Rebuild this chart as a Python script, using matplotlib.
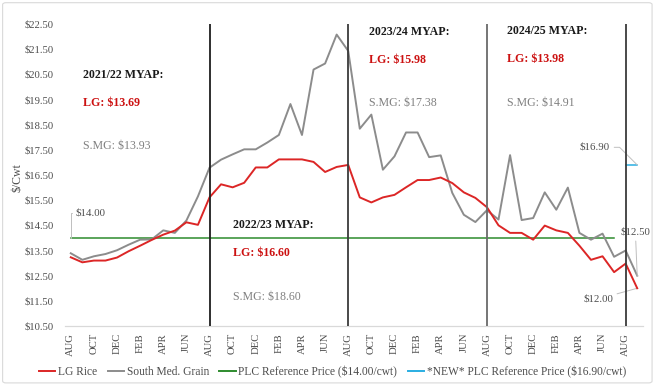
import matplotlib
matplotlib.use("Agg")
import matplotlib.pyplot as plt
from matplotlib.lines import Line2D
from matplotlib.patches import FancyBboxPatch

plt.rcParams['font.family'] = ['Liberation Serif', 'DejaVu Serif']

# ---------------- DATA ----------------
categories = ['AUG', 'SEP', 'OCT', 'NOV', 'DEC', 'JAN', 'FEB', 'MAR', 'APR', 'MAY', 'JUN', 'JUL'] * 4 + ['AUG', 'SEP']
lg_rice = [13.23, 13.03, 13.10, 13.10, 13.22, 13.47, 13.69, 13.92, 14.13, 14.29, 14.62, 14.52, 15.61,
           16.13, 16.01, 16.19, 16.80, 16.80, 17.12, 17.12, 17.12, 17.02, 16.62, 16.82, 16.90,
           15.61, 15.41, 15.61, 15.71, 16.01, 16.30, 16.30, 16.40, 16.18, 15.81, 15.59, 15.22,
           14.50, 14.20, 14.20, 13.93, 14.49, 14.30, 14.20, 13.69, 13.13, 13.27, 12.64, 12.98, 12.00]
south_med = [13.39, 13.13, 13.27, 13.36, 13.51, 13.73, 13.93, 13.94, 14.30, 14.20, 14.69, 15.65, 16.79,
             17.11, 17.32, 17.52, 17.52, 17.79, 18.09, 19.32, 18.09, 20.69, 20.93, 22.08, 21.43,
             18.34, 18.90, 16.71, 17.24, 18.19, 18.19, 17.21, 17.28, 15.79, 14.92, 14.63, 15.10,
             14.73, 17.29, 14.71, 14.79, 15.81, 15.12, 16.00, 14.20, 13.93, 14.17, 13.25, 13.50, 12.50]
plc_ref = 14.00
plc_ref_end = 48          # old reference price drawn over categories [0, 48)
new_plc_ref = 16.90
new_plc_start = 48        # new reference price drawn over categories [48, 50)
year_breaks = [12, 24, 36, 48]
myap_years = ['2021/22', '2022/23', '2023/24', '2024/25']
myap_lg = [13.69, 16.60, 15.98, 13.98]
myap_smg = [13.93, 18.60, 17.38, 14.91]
yticks = [10.5, 11.5, 12.5, 13.5, 14.5, 15.5, 16.5, 17.5, 18.5, 19.5, 20.5, 21.5, 22.5]

# ---------------- STYLE ----------------
RED = '#dc2626'
RED_TXT = '#cc1111'
GREY = '#8c8c8c'
GREY_TXT = '#808080'
GREEN = '#2e8b2e'
BLUE = '#2aaee2'
TICK = '#4d4d4d'
LEAD = '#bfbfbf'

fig = plt.figure(figsize=(6.56, 3.86), dpi=100)
fig.patches.append(FancyBboxPatch((0.004, 0.008), 0.99, 0.985, boxstyle='round,pad=0,rounding_size=0.005',
                                  transform=fig.transFigure, fill=False, edgecolor='#d9d9d9', lw=0.8))
ax = fig.add_axes([65 / 656, 1 - 326 / 386, 578 / 656, 302 / 386])

x = list(range(len(categories)))
ax.plot(x, lg_rice, color=RED, lw=1.4, zorder=4)
ax.plot(x, south_med, color=GREY, lw=1.4, zorder=3)
ax.plot(x[:plc_ref_end], [plc_ref] * plc_ref_end, color=GREEN, lw=1.1, zorder=2)
ax.plot(x[new_plc_start:], [new_plc_ref] * (len(x) - new_plc_start), color=BLUE, lw=1.1, zorder=2)

vcolors = ['#1f1f1f', '#3a3a3a', '#6a6a6a', '#3a3a3a']
for b, c in zip(year_breaks, vcolors):
    ax.axvline(b, color=c, lw=1.3, zorder=5)

ax.set_xlim(-0.5, len(categories) - 0.5)
ax.set_ylim(10.5, 22.5)
ax.set_yticks(yticks)
ax.set_yticklabels([f'${v:.2f}' for v in yticks])
ax.set_xticks(x[::2])
ax.set_xticklabels(categories[::2], rotation=90)
ax.tick_params(axis='both', length=0, colors=TICK, labelsize=7.7)
ax.tick_params(axis='y', pad=8)
ax.tick_params(axis='x', pad=5)
for s in ['top', 'right', 'left']:
    ax.spines[s].set_visible(False)
ax.spines['bottom'].set_color('#d9d9d9')
ax.spines['bottom'].set_linewidth(0.9)
ax.set_ylabel('$/Cwt', color=TICK, fontsize=8.5, labelpad=4)
ax.yaxis.set_label_coords(-0.071, 0.49)

# MYAP annotation blocks (x in category units, y in $/cwt)
block_pos = [(1.03, 20.47, 19.37, 17.65),
             (14.06, 14.51, 13.41, 11.66),
             (25.82, 22.17, 21.07, 19.37),
             (37.76, 22.22, 21.11, 19.37)]
for (bx, y1, y2, y3), yr, lg, sm in zip(block_pos, myap_years, myap_lg, myap_smg):
    ax.text(bx, y1, f'{yr} MYAP:', fontsize=8.6, fontweight='bold', color='#1a1a1a', ha='left', va='center')
    ax.text(bx, y2, f'LG: ${lg:.2f}', fontsize=8.6, fontweight='bold', color=RED_TXT, ha='left', va='center')
    ax.text(bx, y3, f'S.MG: ${sm:.2f}', fontsize=8.6, color=GREY_TXT, ha='left', va='center')

# data labels with leader lines
lbl_kw = dict(fontsize=7.8, color=TICK)
ax.annotate(f'${plc_ref:.2f}', xy=(0, plc_ref), xytext=(0.45, 14.99), ha='left', va='center',
            arrowprops=dict(arrowstyle='-', color=LEAD, lw=0.7, shrinkA=1, shrinkB=0,
                            connectionstyle='angle,angleA=180,angleB=90,rad=0'), **lbl_kw)
ax.annotate(f'${new_plc_ref:.2f}', xy=(len(x) - 1, new_plc_ref), xytext=(46.65, 17.6), ha='right', va='center',
            arrowprops=dict(arrowstyle='-', color=LEAD, lw=0.7, shrinkA=1, shrinkB=0,
                            connectionstyle='angle,angleA=0,angleB=135,rad=0'), **lbl_kw)
ax.annotate(f'${south_med[-1]:.2f}', xy=(len(x) - 1, south_med[-1]), xytext=(47.55, 14.22), ha='left', va='center',
            arrowprops=dict(arrowstyle='-', color=LEAD, lw=0.7, shrinkA=1, shrinkB=0), annotation_clip=False, **lbl_kw)
ax.annotate(f'${lg_rice[-1]:.2f}', xy=(len(x) - 1, lg_rice[-1]), xytext=(46.9, 11.57), ha='right', va='center',
            arrowprops=dict(arrowstyle='-', color=LEAD, lw=0.7, shrinkA=1, shrinkB=0), **lbl_kw)

handles = [Line2D([], [], color=RED, lw=1.4), Line2D([], [], color=GREY, lw=1.4),
           Line2D([], [], color=GREEN, lw=1.4), Line2D([], [], color=BLUE, lw=1.4)]
labels = ['LG Rice', 'South Med. Grain', f'PLC Reference Price (${plc_ref:.2f}/cwt)',
          f'*NEW* PLC Reference Price (${new_plc_ref:.2f}/cwt)']
fig.legend(handles, labels, loc='center', bbox_to_anchor=(0.507, 1 - 372 / 386), ncol=4, frameon=False,
           fontsize=8.3, handlelength=1.4, handletextpad=0.25, columnspacing=0.9, labelcolor=TICK)

fig.savefig('out.png', dpi=100)
